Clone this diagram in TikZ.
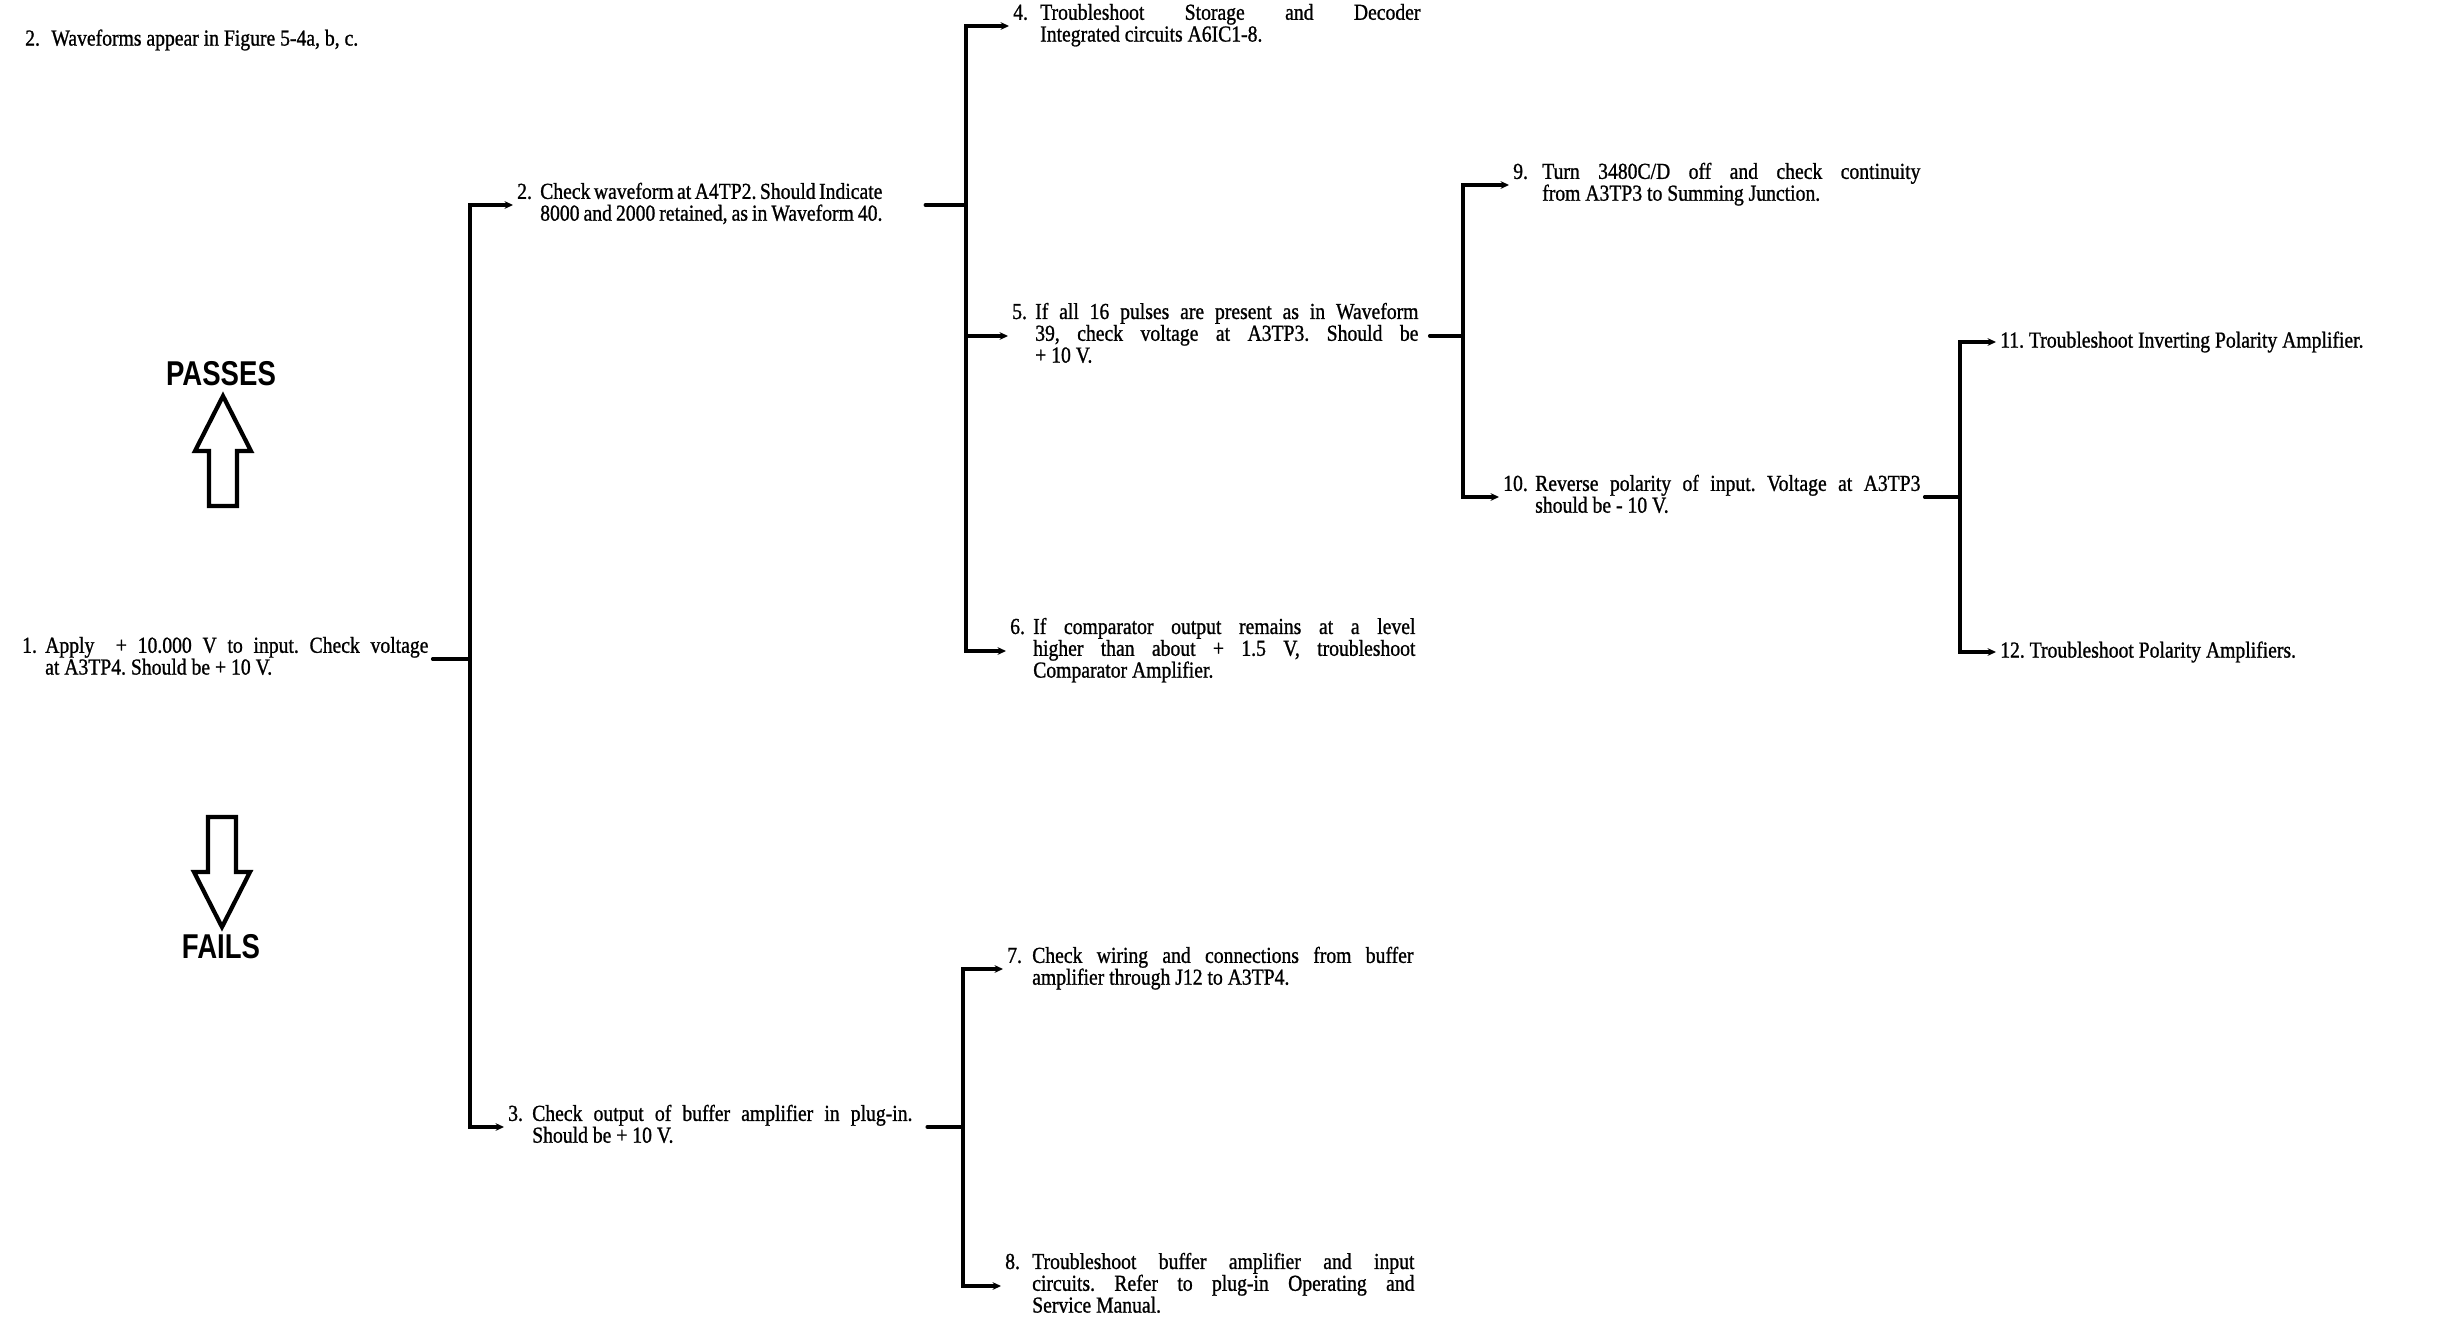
\documentclass[tikz,border=0pt]{standalone}
\usepackage{fontspec}
\setmainfont{Liberation Serif}[FakeStretch=0.86,FakeBold=1.0]
\newfontfamily\tagfont{Liberation Sans}[FakeStretch=0.8]
\usetikzlibrary{arrows.meta,calc}
\frenchspacing

\begin{document}
\begin{tikzpicture}[
    x=0.01cm,y=-0.01cm,
    line cap=round,
    >={Stealth[length=2.4pt,width=2.2pt]},
    every node/.style={inner sep=1pt},
    wire/.style={line width=1pt},
    stepnode/.style={anchor=west,font=\fontsize{6.5pt}{6.2pt}\selectfont},
    tag/.style={font=\tagfont\bfseries\fontsize{9.8pt}{10pt}\selectfont},
    blockarrow/.style={line width=1.2pt,line join=miter}
]

\useasboundingbox (0,0) rectangle (2463,1324);

% ============================================================
% helpers
% ============================================================

\newcommand{\StepText}[4][0.25cm]{%
    \begin{tabular}{@{}p{#1}@{}p{#2}@{}}#3 & #4\end{tabular}%
}

\newcommand{\JustLine}[1]{\makebox[\linewidth][s]{#1}}

\newcommand{\HollowArrow}{%
    \draw[blockarrow]
        (0,0) -- (28,55) -- (14,55) -- (14,110)
        -- (-14,110) -- (-14,55) -- (-28,55) -- cycle;
}

% ============================================================
% note and pass/fail key
% ============================================================

\node[stepnode] (note) at (21,40) {2.\enspace Waveforms appear in Figure 5-4a, b, c.};

\node[tag] (passes) at (221,374) {PASSES};
\begin{scope}[shift={(223,396)}]
    \HollowArrow
\end{scope}

\begin{scope}[shift={(222,927)},yscale=-1]
    \HollowArrow
\end{scope}
\node[tag] (fails) at (221,947) {FAILS};

% ============================================================
% steps
% ============================================================

\node[stepnode] (step1) at (18,659) {\StepText[0.23cm]{3.83cm}{1.}{%
    \JustLine{Apply \ + 10.000 V to input. Check voltage}\newline
    at A3TP4. Should be + 10 V.}};

\node[stepnode] (step2) at (513,205) {\StepText[0.23cm]{3.42cm}{2.}{%
    \JustLine{Check waveform at A4TP2. Should Indicate}\newline
    8000 and 2000 retained, as in Waveform 40.}};

\node[stepnode] (step3) at (504,1127) {\StepText[0.24cm]{3.80cm}{3.}{%
    \JustLine{Check output of buffer amplifier in plug-in.}\newline
    Should be + 10 V.}};

\node[stepnode] (step4) at (1009,26) {\StepText[0.27cm]{3.80cm}{4.}{%
    \JustLine{Troubleshoot Storage and Decoder}\newline
    Integrated circuits A6IC1-8.}};

\node[stepnode] (step5) at (1008,336) {\StepText[0.23cm]{3.83cm}{5.}{%
    \JustLine{If all 16 pulses are present as in Waveform}\newline
    \JustLine{39, check voltage at A3TP3. Should be}\newline
    + 10 V.}};

\node[stepnode] (step6) at (1006,651) {\StepText[0.23cm]{3.82cm}{6.}{%
    \JustLine{If comparator output remains at a level}\newline
    \JustLine{higher than about + 1.5 V, troubleshoot}\newline
    Comparator Amplifier.}};

\node[stepnode] (step7) at (1003,969) {\StepText[0.25cm]{3.81cm}{7.}{%
    \JustLine{Check wiring and connections from buffer}\newline
    amplifier through J12 to A3TP4.}};

\node[stepnode] (step8) at (1001,1286) {\StepText[0.27cm]{3.82cm}{8.}{%
    \JustLine{Troubleshoot buffer amplifier and input}\newline
    \JustLine{circuits. Refer to plug-in Operating and}\newline
    Service Manual.}};

\node[stepnode] (step9) at (1509,185) {\StepText[0.29cm]{3.78cm}{9.}{%
    \JustLine{Turn 3480C/D off and check continuity}\newline
    from A3TP3 to Summing Junction.}};

\node[stepnode] (step10) at (1499,497) {\StepText[0.32cm]{3.85cm}{10.}{%
    \JustLine{Reverse polarity of input. Voltage at A3TP3}\newline
    should be - 10 V.}};

\node[stepnode] (step11) at (1996,342) {11. Troubleshoot Inverting Polarity Amplifier.};

\node[stepnode] (step12) at (1996,652) {12. Troubleshoot Polarity Amplifiers.};

% ============================================================
% branches
% ============================================================

\coordinate (trunkA) at (470,0 |- step1.east);
\draw[wire] (step1.east) -- (trunkA);
\draw[wire,<->] (step2.west) -| (trunkA) |- (step3.west);

\coordinate (trunkB) at (966,0 |- step2.east);
\draw[wire,shorten <=11pt] (step2.east) -- (trunkB);
\draw[wire,<->] (step4.west) -| (trunkB) |- (step6.west);
\draw[wire,->] (trunkB |- step5.west) -- (step5.west);

\coordinate (trunkC) at (1463,0 |- step5.east);
\draw[wire,shorten <=2pt] (step5.east) -- (trunkC);
\draw[wire,<->] (step9.west) -| (trunkC) |- (step10.west);

\coordinate (trunkD) at (963,0 |- step3.east);
\draw[wire,shorten <=3pt] (step3.east) -- (trunkD);
\draw[wire,<->] (step7.west) -| (trunkD) |- (step8.west);

\coordinate (trunkE) at (1960,0 |- step10.east);
\draw[wire] (step10.east) -- (trunkE);
\draw[wire,<->] (step11.west) -| (trunkE) |- (step12.west);

\end{tikzpicture}
\end{document}
